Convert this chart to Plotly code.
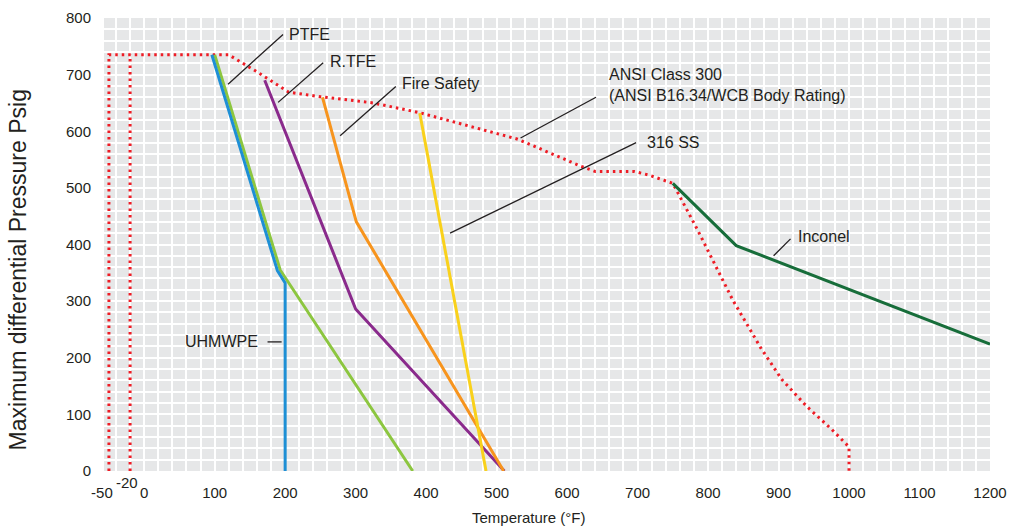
import plotly.graph_objects as go

# ANSI Class 300 body rating (dotted red)
ansi_temp = [-50, -50, 120, 135, 160, 185, 205, 250, 325, 390, 530, 620, 640, 695,
             715, 750, 760, 785, 810, 835, 875, 905, 940, 975, 998, 1000, 1000]
ansi_psig = [0, 735, 735, 724, 705, 685, 669, 661, 650, 633, 586, 538, 529, 529,
             523, 508, 485, 426, 364, 302, 217, 161, 114, 74, 45, 42, 0]

# -20 °F limit (dotted red)
low_limit_temp = [-20, -20]
low_limit_psig = [0, 735]

# Seat materials
uhmwpe_temp = [96, 189, 200, 200]
uhmwpe_psig = [735, 354, 332, 0]

ptfe_temp = [100, 193, 381]
ptfe_psig = [735, 355, 0]

rtfe_temp = [171, 300, 511]
rtfe_psig = [690, 286, 0]

fire_temp = [253, 301, 510]
fire_psig = [660, 440, 0]

ss316_temp = [391, 485]
ss316_psig = [632, 0]

inconel_temp = [750, 840, 1200]
inconel_psig = [508, 398, 224]

# Axis ticks
x_grid_values = list(range(-40, 1201, 20))
x_label_values = [0, 100, 200, 300, 400, 500, 600, 700, 800, 900, 1000, 1100, 1200]
y_grid_values = list(range(0, 801, 20))
y_label_values = [0, 100, 200, 300, 400, 500, 600, 700, 800]

FONT = "Liberation Sans, Arial, Helvetica, sans-serif"
TEXT = "#231f20"
RED = "#ee1c25"
DOTS = "2.5px,4px"

fig = go.Figure()

def add_line(xs, ys, color, dash="solid", width=3):
    fig.add_trace(go.Scatter(x=xs, y=ys, mode="lines",
                             line=dict(color=color, width=width, dash=dash),
                             hoverinfo="skip", showlegend=False))

add_line(low_limit_temp, low_limit_psig, RED, dash=DOTS)
add_line(ansi_temp, ansi_psig, RED, dash=DOTS)
add_line(ptfe_temp, ptfe_psig, "#8cc63f")
add_line(uhmwpe_temp, uhmwpe_psig, "#1e8fd5")
add_line(rtfe_temp, rtfe_psig, "#8a2a8c")
add_line(fire_temp, fire_psig, "#f7941d")
add_line(ss316_temp, ss316_psig, "#f9d11b")
add_line(inconel_temp, inconel_psig, "#176d3a")

# Invisible anchor so the secondary label axis is drawn
fig.add_trace(go.Scatter(x=[-50], y=[0], xaxis="x2", mode="markers",
                         marker=dict(opacity=0), hoverinfo="skip", showlegend=False))

# Leader lines from labels to curves
leaders = [
    (119, 683, 197, 771),   # PTFE
    (190, 651, 254, 721),   # R.TFE
    (278, 592, 357, 679),   # Fire Safety
    (534, 588, 641, 660),   # ANSI Class 300
    (434, 420, 698, 580),   # 316 SS
    (893, 380, 917, 410),   # Inconel
    (175, 228, 195, 228),   # UHMWPE
]
for x0, y0, x1, y1 in leaders:
    fig.add_shape(type="line", xref="x", yref="y", x0=x0, y0=y0, x1=x1, y1=y1,
                  line=dict(color=TEXT, width=1.3))

labels = [
    (202, 770, "PTFE", "left"),
    (261, 723, "R.TFE", "left"),
    (363, 685, "Fire Safety", "left"),
    (657, 682, "ANSI Class 300<br>(ANSI B16.34/WCB Body Rating)", "left"),
    (711, 580, "316 SS", "left"),
    (925, 414, "Inconel", "left"),
    (165, 228, "UHMWPE", "right"),
]
for x, y, t, anchor in labels:
    fig.add_annotation(x=x, y=y, text=t, showarrow=False, xanchor=anchor,
                       yanchor="middle", align="left",
                       font=dict(family=FONT, size=16, color=TEXT))

fig.add_annotation(x=-20, y=0, text="-20", showarrow=False, xanchor="center",
                   yanchor="middle", yshift=-11, xshift=-3,
                   font=dict(family=FONT, size=15, color=TEXT))

fig.add_annotation(xref="paper", yref="paper", x=0.4797, y=-0.102,
                   text="Temperature (°F)", showarrow=False,
                   xanchor="center", yanchor="middle",
                   font=dict(family=FONT, size=15, color=TEXT))
fig.add_annotation(xref="paper", yref="paper", x=-0.097, y=0.443,
                   text="Maximum differential Pressure Psig", showarrow=False,
                   textangle=-90, xanchor="center", yanchor="middle",
                   font=dict(family=FONT, size=23, color=TEXT))

fig.update_layout(
    width=1009, height=529,
    margin=dict(l=104, r=19, t=18, b=58, autoexpand=False),
    paper_bgcolor="white", plot_bgcolor="#e6e7e8",
    xaxis=dict(range=[-57, 1200], tickmode="array", tickvals=x_grid_values,
               ticktext=[str(v) if v in x_label_values else "" for v in x_grid_values],
               showgrid=True, gridcolor="white", gridwidth=2, automargin=False,
               zeroline=False, showline=False, ticks="",
               ticklabelstandoff=11,
               tickfont=dict(family=FONT, size=15, color=TEXT)),
    xaxis2=dict(range=[-57, 1200], overlaying="x", anchor="y", side="bottom",
                tickmode="array", tickvals=[-50], ticktext=["-50"], automargin=False,
                ticklabelshift=-7, ticklabelstandoff=11,
                showgrid=False, zeroline=False, showline=False, ticks="",
                tickfont=dict(family=FONT, size=15, color=TEXT)),
    yaxis=dict(range=[0, 800], tickmode="array", tickvals=y_grid_values,
               ticktext=[str(v) if v in y_label_values else "" for v in y_grid_values],
               showgrid=True, gridcolor="white", gridwidth=2, automargin=False,
               zeroline=False, showline=False, ticks="",
               ticklabelstandoff=12,
               tickfont=dict(family=FONT, size=15, color=TEXT)),
)

fig.write_html("out.html")
